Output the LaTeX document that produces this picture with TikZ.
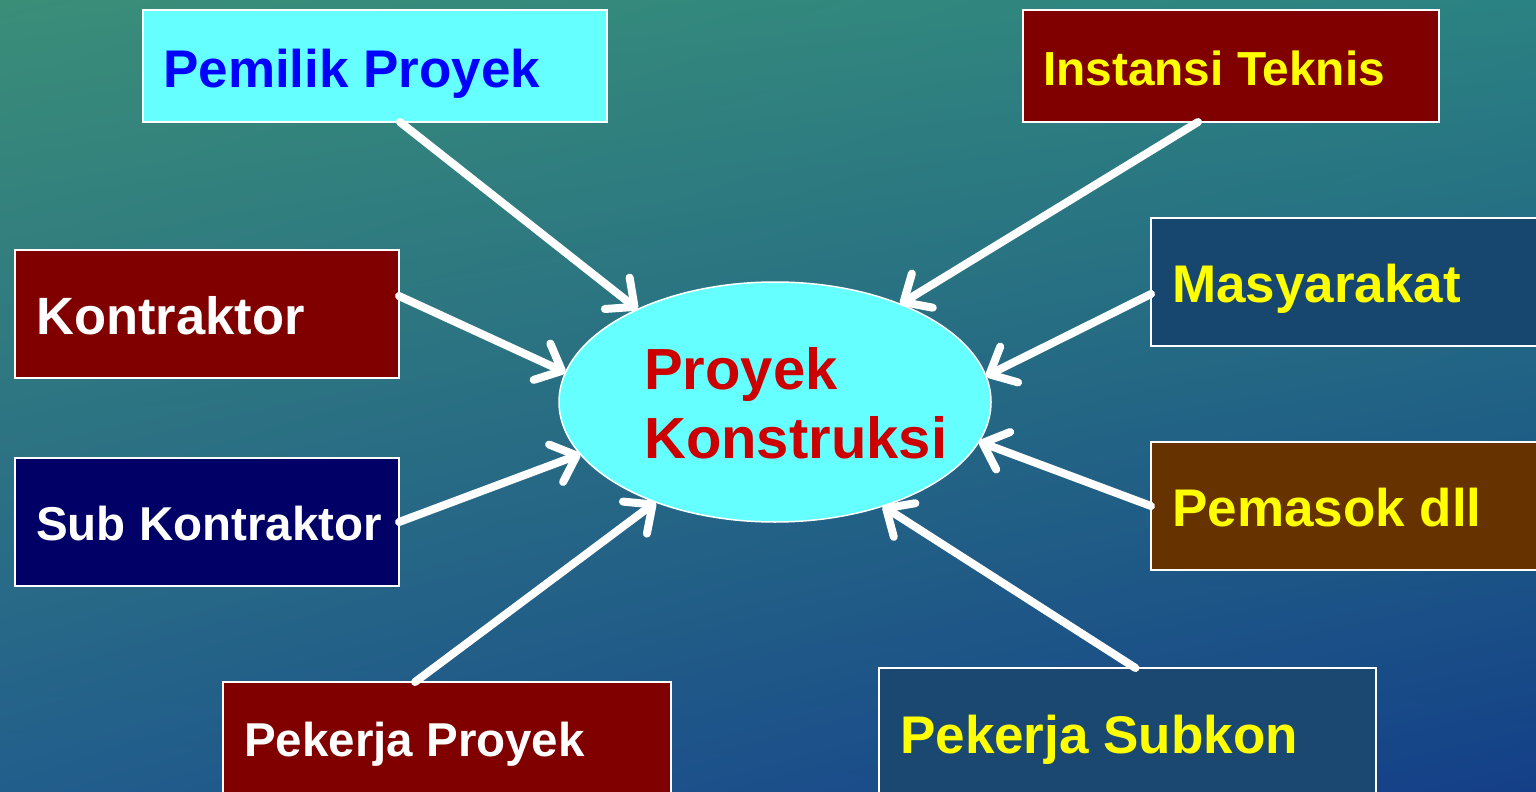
\documentclass[tikz,border=0pt]{standalone}
\usepackage{fontspec}
\setmainfont{Liberation Sans}
\usetikzlibrary{arrows.meta,shapes.geometric,shadings}
\definecolor{cyanbox}{HTML}{66FFFF}
\definecolor{darkredbox}{HTML}{800000}
\definecolor{navybox}{HTML}{000066}
\definecolor{brownbox}{HTML}{663300}
\definecolor{steelbox}{HTML}{17476E}
\definecolor{steelboxb}{HTML}{1A4870}
\definecolor{txtblue}{HTML}{0000FF}
\definecolor{txtyellow}{HTML}{FFFF00}
\definecolor{txtred}{HTML}{CC0000}
\definecolor{bgul}{HTML}{3A8E78}
\definecolor{bgur}{HTML}{2B8282}
\definecolor{bgll}{HTML}{225E8C}
\definecolor{bglr}{HTML}{143F88}
\begin{document}
\begin{tikzpicture}[x=1pt,y=-1pt,
  box/.style={draw=white,line width=2pt,rectangle,inner sep=0pt,outer sep=0pt},
  txt/.style={font=\bfseries\fontsize{#1}{#1}\selectfont,anchor=base west,inner sep=0pt},
  conn/.style={draw=white,line width=8pt,line cap=round,-{Straight Barb[length=22pt,width=40pt,round]}}]
\useasboundingbox (0,0) rectangle (1536,792);
\clip (0,0) rectangle (1536,792);
\shade[upper left=bgul,upper right=bgur,lower left=bgll,lower right=bglr] (0,0) rectangle (1536,792);

% boxes
\node[box,fill=cyanbox,minimum width=464pt,minimum height=112pt] (pemilik) at (375,66) {};
\node[box,fill=darkredbox,minimum width=416pt,minimum height=112pt] (instansi) at (1231,66) {};
\node[box,fill=darkredbox,minimum width=384pt,minimum height=128pt] (kontraktor) at (207,314) {};
\node[box,fill=steelbox,minimum width=449pt,minimum height=128pt] (masyarakat) at (1375.5,282) {};
\node[box,fill=navybox,minimum width=384pt,minimum height=128pt] (subkontraktor) at (207,522) {};
\node[box,fill=brownbox,minimum width=449pt,minimum height=128pt] (pemasok) at (1375.5,506) {};
\node[box,fill=darkredbox,minimum width=448pt,minimum height=138pt] (pekerjaproyek) at (447,751) {};
\node[box,fill=steelboxb,minimum width=497pt,minimum height=152pt] (pekerjasubkon) at (1127.5,744) {};

% centre ellipse
\node[ellipse,fill=cyanbox,draw=white,line width=1.5pt,minimum width=432pt,minimum height=240pt,inner sep=0pt,outer sep=0pt] (proj) at (775,402) {};

% texts
\node[txt=53,text=txtblue] (tpemilik) at (163,87) {Pemilik Proyek};
\node[txt=47.8,text=txtyellow] (tinstansi) at (1043,85) {Instansi Teknis};
\node[txt=52.5,text=white] (tkontraktor) at (36,334) {Kontraktor};
\node[txt=53,text=txtyellow] (tmasyarakat) at (1172,302) {Masyarakat};
\node[txt=47.5,text=white] (tsubkontraktor) at (36,540) {Sub Kontraktor};
\node[txt=53,text=txtyellow] (tpemasok) at (1172,526) {Pemasok dll};
\node[txt=47.5,text=white] (tpekerjaproyek) at (244,756) {Pekerja Proyek};
\node[txt=53,text=txtyellow] (tpekerjasubkon) at (900,753) {Pekerja Subkon};
\node[txt=58,text=txtred] (tproyek) at (644,389) {Proyek};
\node[txt=58,text=txtred] (tkonstruksi) at (644,458) {Konstruksi};

% connectors
\draw[conn] ([xshift=25pt]pemilik.south) -- (proj.146.9);
\draw[conn] ([xshift=-33pt]instansi.south) -- (proj.38.1);
\draw[conn] ([yshift=18pt]kontraktor.east) -- (proj.172.7);
\draw[conn] ([yshift=-12pt]masyarakat.west) -- (proj.7.4);
\draw[conn] (subkontraktor.east) -- (proj.195.8);
\draw[conn] (pemasok.west) -- (proj.-11);
\draw[conn] ([xshift=-32pt]pekerjaproyek.north) -- (proj.220.8);
\draw[conn] ([xshift=8pt]pekerjasubkon.north) -- (proj.-44.2);
\end{tikzpicture}
\end{document}
